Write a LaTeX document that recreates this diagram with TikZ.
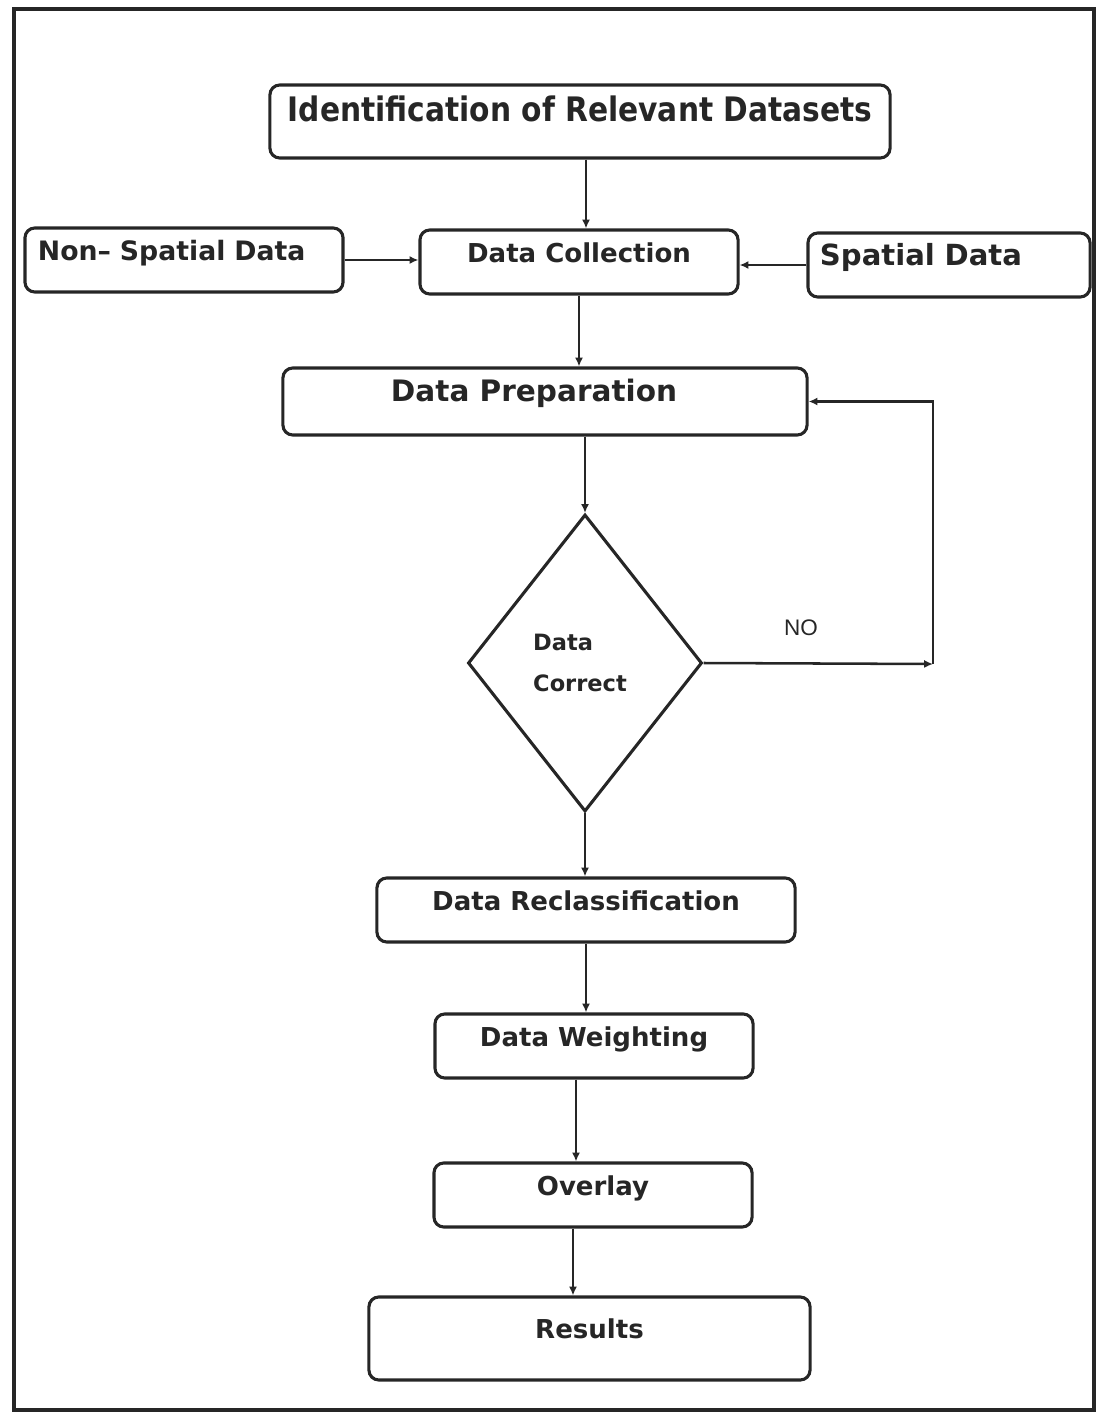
\documentclass[tikz,border=0pt]{standalone}
\usepackage{fontspec}
\usepackage{graphicx}
\setmainfont{DejaVu Sans}
\newfontfamily\labelfont{Liberation Sans}
\usepackage{tikz}
\usetikzlibrary{arrows.meta,shapes.geometric}

\begin{document}
\begin{tikzpicture}[x=0.025cm,y=-0.025cm,>={Latex[length=2.2mm,width=2mm]},
  stepbox/.style={draw=black!85,line width=2.2pt,rounded corners=7pt,inner sep=0pt,
    text height=10pt,text depth=10pt,text=black!85,font=\bfseries\fontsize{18.5}{20}\selectfont},
  flow/.style={->,draw=black!85,line width=1.8pt}]
  \useasboundingbox (0,0) rectangle (1104,1413);
  \draw[black!85,line width=2.4pt] (14,9) rectangle (1094,1410);
  \node[stepbox,minimum width=15.5cm,minimum height=1.825cm] (ident) at (580,121.5)
    {\fontsize{24}{26}\selectfont\scalebox{0.88}[1]{Identification of Relevant Datasets}};
  \node[stepbox,minimum width=7.95cm,minimum height=1.6cm,text width=7.3cm,align=left,font=\bfseries\fontsize{19}{21}\selectfont] (nonsp) at (184,260) {Non\textendash{} Spatial Data};
  \node[stepbox,minimum width=7.95cm,minimum height=1.6cm] (coll) at (579,262) {Data Collection};
  \node[stepbox,minimum width=7.05cm,minimum height=1.6cm,text width=6.45cm,align=left,font=\bfseries\fontsize{20.7}{22}\selectfont] (spat) at (949,265) {Spatial Data};
  \node[stepbox,minimum width=13.1cm,minimum height=1.675cm,font=\bfseries\fontsize{21}{23}\selectfont] (prep) at (545,401.5) {Data Preparation\hspace*{0.55cm}};
  \node[diamond,draw=black!85,line width=2.2pt,minimum width=5.85cm,minimum height=7.425cm,inner sep=0pt,
    align=left,text=black!85,font=\bfseries\fontsize{16}{29}\selectfont] (dec) at (585,663) {Data\\Correct\hspace*{0.25cm}};
  \node[stepbox,minimum width=10.45cm,minimum height=1.6cm] (recl) at (586,910) {Data Reclassification};
  \node[stepbox,minimum width=7.95cm,minimum height=1.6cm] (wght) at (594,1046) {Data Weighting};
  \node[stepbox,minimum width=7.95cm,minimum height=1.6cm] (ovl) at (593,1195) {Overlay};
  \node[stepbox,minimum width=11.025cm,minimum height=2.075cm] (res) at (589.5,1338.5) {Results};
  \node[text=black!85,font=\labelfont\fontsize{16}{18}\selectfont] (nolbl) at (801,628) {NO};
  \coordinate (nocorner) at (933,664);

  \draw[flow] ([xshift=0.15cm]ident.south) -- ([xshift=0.15cm]ident.south |- coll.north);
  \draw[flow] (nonsp.east) -- (nonsp.east -| coll.west);
  \draw[flow] (spat.west) -- (spat.west -| coll.east);
  \draw[flow] (coll.south) -- (coll.south |- prep.north);
  \draw[flow] (prep.south -| dec.north) -- (dec.north);
  \draw[flow] (dec.east) -- (nocorner);
  \draw[flow] (nocorner) |- (prep.east);
  \draw[flow] (dec.south) -- (dec.south |- recl.north);
  \draw[flow] (recl.south) -- (recl.south |- wght.north);
  \draw[flow] ([xshift=-0.45cm]wght.south) -- ([xshift=-0.45cm]wght.south |- ovl.north);
  \draw[flow] ([xshift=-0.5cm]ovl.south) -- ([xshift=-0.5cm]ovl.south |- res.north);
\end{tikzpicture}
\end{document}
